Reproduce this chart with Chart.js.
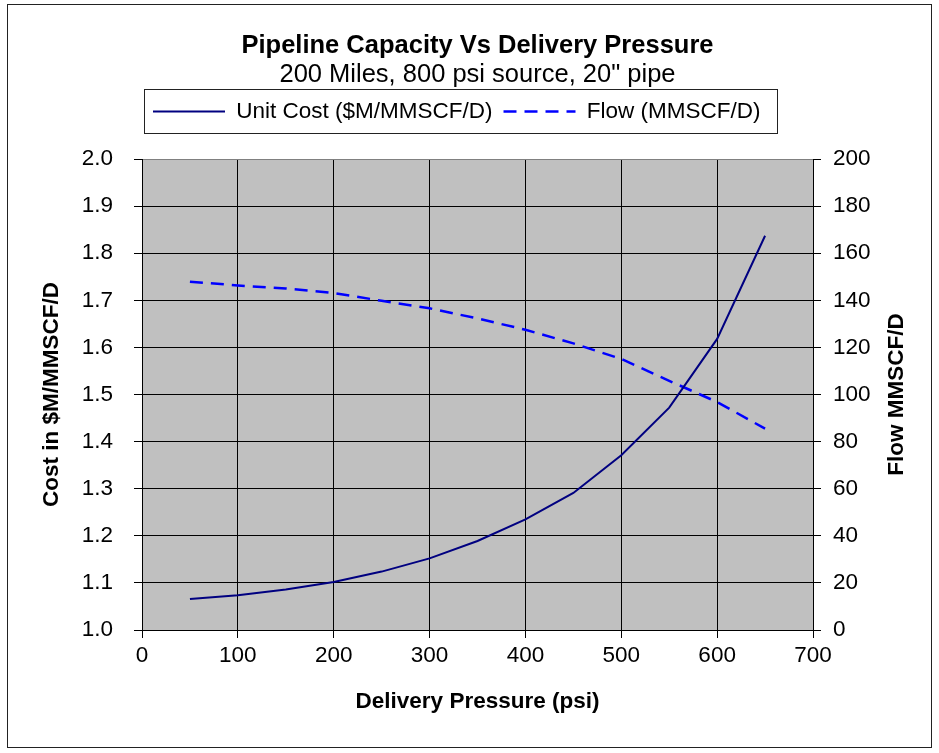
<!DOCTYPE html>
<html><head><meta charset="utf-8">
<script src="https://cdn.jsdelivr.net/npm/chart.js@4"></script>
<style>html,body{margin:0;padding:0;background:#fff}canvas{display:block}</style>
</head><body>
<canvas id="c" width="939" height="753"></canvas>
<script>
// ---- data ----
const TITLE = 'Pipeline Capacity Vs Delivery Pressure';
const SUBTITLE = '200 Miles, 800 psi source, 20" pipe';
const X_TITLE = 'Delivery Pressure (psi)';
const Y_LEFT_TITLE = 'Cost in $M/MMSCF/D';
const Y_RIGHT_TITLE = 'Flow MMSCF/D';
const SERIES_NAMES = ['Unit Cost ($M/MMSCF/D)', 'Flow (MMSCF/D)'];
const pressures = [50, 100, 150, 200, 250, 300, 350, 400, 450, 500, 550, 600, 650];
const unitCost  = [1.066, 1.074, 1.086, 1.102, 1.124, 1.152, 1.189, 1.235, 1.291, 1.371, 1.472, 1.618, 1.837];
const flow      = [147.9, 146.3, 145.0, 143.1, 139.8, 136.6, 132.3, 127.5, 121.7, 115.1, 105.8, 96.8, 85.5];
const xTicks    = [0, 100, 200, 300, 400, 500, 600, 700];
const costTicks = [1.0, 1.1, 1.2, 1.3, 1.4, 1.5, 1.6, 1.7, 1.8, 1.9, 2.0];
const flowTicks = [0, 20, 40, 60, 80, 100, 120, 140, 160, 180, 200];

// ---- styling ----
const FONT = '"Liberation Sans", Arial, sans-serif';
Chart.defaults.font.family = FONT;
Chart.defaults.color = '#000';

const toXY = (xs, ys) => xs.map((x, i) => ({x, y: ys[i]}));
const setTicks = arr => (scale) => { scale.ticks = arr.map(v => ({value: v})); };

const framePlugin = {
  id: 'frame',
  beforeLayout(chart) {
    const lg = chart.legend;
    if (lg && !lg._patched) {
      const f = lg.fit;
      lg.fit = function () { f.call(this); this.height = 69.75; };
      lg._patched = true;
    }
  },
  beforeDraw(chart) {
    const {ctx, chartArea: a} = chart;
    ctx.save();
    ctx.fillStyle = '#fff';
    ctx.fillRect(0, 0, chart.width, chart.height);
    ctx.strokeStyle = '#222';
    ctx.lineWidth = 1;
    ctx.strokeRect(7.5, 4.5, 924, 743);
    ctx.fillStyle = '#C0C0C0';
    ctx.fillRect(a.left, a.top, a.right - a.left, a.bottom - a.top);
    ctx.restore();
  },
  afterDraw(chart) {
    const {ctx, chartArea: a} = chart;
    const lg = chart.legend;
    ctx.save();
    if (lg && lg.legendHitBoxes && lg.legendHitBoxes.length) {
      const hb = lg.legendHitBoxes;
      const last = hb[hb.length - 1];
      const x0 = Math.round(lg.left) + 2.5;
      const x1 = Math.round(last.left + last.width + 17) + 0.5;
      const y0 = Math.round(lg.top) + 0.5;
      const y1 = y0 + 44;
      ctx.strokeStyle = '#222';
      ctx.lineWidth = 1;
      ctx.strokeRect(x0, y0, x1 - x0, y1 - y0);
    }
    // right axis title, reading bottom-to-top
    ctx.translate(897, (a.top + a.bottom) / 2);
    ctx.rotate(-Math.PI / 2);
    ctx.font = 'bold 22.5px ' + FONT;
    ctx.fillStyle = '#000';
    ctx.textAlign = 'center';
    ctx.textBaseline = 'middle';
    ctx.fillText(Y_RIGHT_TITLE, 0, 0);
    ctx.restore();
  }
};

new Chart(document.getElementById('c'), {
  type: 'line',
  data: {
    datasets: [
      {
        label: SERIES_NAMES[0],
        data: toXY(pressures, unitCost),
        yAxisID: 'y',
        borderColor: '#000080',
        backgroundColor: '#000080',
        borderWidth: 2,
        pointRadius: 0,
        tension: 0,
        fill: false
      },
      {
        label: SERIES_NAMES[1],
        data: toXY(pressures, flow),
        yAxisID: 'y1',
        borderColor: '#0000FF',
        backgroundColor: '#0000FF',
        borderWidth: 2.5,
        borderDash: [13, 8],
        pointRadius: 0,
        tension: 0,
        fill: false
      }
    ]
  },
  options: {
    responsive: false,
    animation: false,
    devicePixelRatio: 1,
    layout: {padding: 0},
    plugins: {
      title: {
        display: true, text: TITLE, fullSize: false, color: '#000',
        font: {size: 25.5, weight: 'bold', lineHeight: 1},
        padding: {top: 33.5, bottom: 0}
      },
      subtitle: {
        display: true, text: SUBTITLE, fullSize: false, color: '#000',
        font: {size: 25.5, weight: 'normal', lineHeight: 1},
        padding: {top: 2.75, bottom: 2}
      },
      legend: {
        display: true, position: 'top', align: 'start', fullSize: false,
        labels: {
          color: '#000',
          font: {size: 22.5},
          padding: 11,
          usePointStyle: true,
          pointStyle: 'line',
          boxWidth: 72,
          pointStyleWidth: 72,
          generateLabels(chart) {
            return chart.data.datasets.map((ds, i) => ({
              text: ds.label,
              fillStyle: ds.borderColor,
              strokeStyle: ds.borderColor,
              lineWidth: ds.borderWidth,
              lineDash: ds.borderDash || [],
              lineDashOffset: 0,
              lineCap: 'butt',
              lineJoin: 'miter',
              pointStyle: 'line',
              rotation: 0,
              fontColor: '#000',
              hidden: !chart.isDatasetVisible(i),
              datasetIndex: i
            }));
          }
        }
      },
      tooltip: {enabled: false}
    },
    scales: {
      x: {
        type: 'linear', position: 'bottom', min: 0, max: 700,
        afterBuildTicks: setTicks(xTicks),
        afterFit(s) { s.height = 123; },
        grid: {color: '#000', tickColor: '#000', lineWidth: 1, tickLength: 8, drawTicks: true},
        border: {display: true, color: '#000', width: 1},
        ticks: {font: {size: 22.5}, color: '#000', padding: 4.5, maxRotation: 0, autoSkip: false},
        title: {display: true, text: X_TITLE, color: '#000', font: {size: 22.5, weight: 'bold'}, padding: {top: 0, bottom: 37.5}}
      },
      y: {
        type: 'linear', position: 'left', min: 1.0, max: 2.0,
        afterBuildTicks: setTicks(costTicks),
        afterFit(s) { s.width = 142; },
        grid: {
          color: c => (c.tick && Math.abs(c.tick.value - 2) < 1e-9) ? '#808080' : '#000',
          tickColor: '#000', lineWidth: 1, tickLength: 8
        },
        border: {display: true, color: '#000', width: 1},
        ticks: {font: {size: 22.5}, color: '#000', padding: 21, callback: v => Number(v).toFixed(1)},
        title: {display: true, text: Y_LEFT_TITLE, color: '#000', font: {size: 22.5, weight: 'bold'}, padding: {top: 38, bottom: 0}}
      },
      y1: {
        type: 'linear', position: 'right', min: 0, max: 200,
        afterBuildTicks: setTicks(flowTicks),
        afterFit(s) { s.width = 126; },
        grid: {drawOnChartArea: false, tickColor: '#000', lineWidth: 1, tickLength: 8},
        border: {display: true, color: '#000', width: 1},
        ticks: {font: {size: 22.5}, color: '#000', padding: 12, callback: v => String(v)},
        title: {display: false}
      }
    }
  },
  plugins: [framePlugin]
});
</script>
</body></html>
